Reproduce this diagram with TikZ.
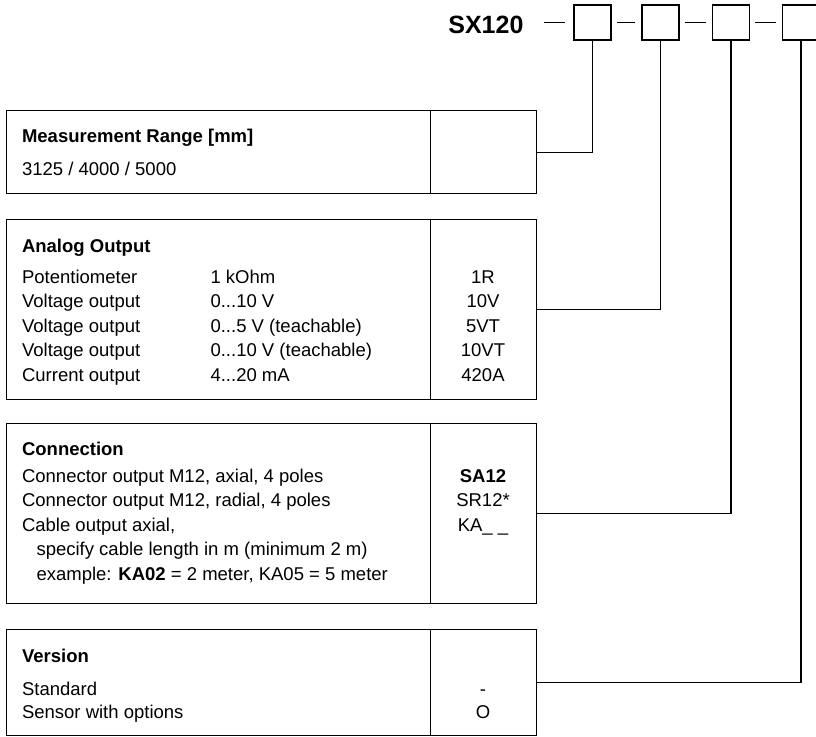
\documentclass[tikz,border=0pt]{standalone}
\usepackage{fontspec}
\setmainfont{Liberation Sans}

\begin{document}
\begin{tikzpicture}[x=1pt, y=-1pt, line width=1.1pt,
  txt/.style={anchor=base west, inner sep=0pt, font=\fontsize{18.5}{22}\selectfont},
  head/.style={txt, font=\fontsize{18.5}{22}\selectfont\bfseries},
  code/.style={txt, anchor=base},
  cell/.style={draw, anchor=north west, inner sep=0pt, minimum width=424},
  codecell/.style={draw, anchor=north west, inner sep=0pt, minimum width=106},
  slot/.style={draw, minimum width=37, minimum height=35, inner sep=0pt}]
\useasboundingbox (0,0) rectangle (816,736);

% order code
\node[font=\fontsize{25}{30}\selectfont\bfseries, anchor=base east, inner sep=0pt] (sx) at (524,33) {SX120};
\node[slot] (s1) at (592.5,22.5) {};
\node[slot] (s2) at (660.5,22.5) {};
\node[slot] (s3) at (731,22.5) {};
\node[slot] (s4) at (801,22.5) {};

% tables
\node[cell, minimum height=83] (range) at (6,110) {};
\node[codecell, minimum height=83] (rangecode) at (430,110) {};
\node[cell, minimum height=180] (ao) at (6,219) {};
\node[codecell, minimum height=180] (aocode) at (430,219) {};
\node[cell, minimum height=180] (con) at (6,423) {};
\node[codecell, minimum height=180] (concode) at (430,423) {};
\node[cell, minimum height=106] (ver) at (6,629) {};
\node[codecell, minimum height=106] (vercode) at (430,629) {};

\node[head] (rangetitle) at (21.5,142) {Measurement Range [mm]};
\node[txt] (rangeval) at (21.5,175) {3125 / 4000 / 5000};

\node[head] (aotitle) at (21.5,252) {Analog Output};
\node[txt] (pot) at (21.5,283) {Potentiometer};
\node[txt] (potval) at (210,283) {1 kOhm};
\node[code] (potcode) at (483,283) {1R};
\node[txt] (volt) at (21.5,307.5) {Voltage output};
\node[txt] (voltval) at (210,307.5) {0...10 V};
\node[code] (voltcode) at (483,307.5) {10V};
\node[txt] (voltt) at (21.5,332) {Voltage output};
\node[txt] (volttval) at (210,332) {0...5 V (teachable)};
\node[code] (volttcode) at (483,332) {5VT};
\node[txt] (volttt) at (21.5,356.5) {Voltage output};
\node[txt] (voltttval) at (210,356.5) {0...10 V (teachable)};
\node[code] (voltttcode) at (483,356.5) {10VT};
\node[txt] (cur) at (21.5,381) {Current output};
\node[txt] (curval) at (210,381) {4...20 mA};
\node[code] (curcode) at (483,381) {420A};

\node[head] (contitle) at (21.5,455) {Connection};
\node[txt] (axial) at (21.5,482) {Connector output M12, axial, 4 poles};
\node[code] (axialcode) at (483,482) {\textbf{SA12}};
\node[txt] (radial) at (21.5,506.5) {Connector output M12, radial, 4 poles};
\node[code] (radialcode) at (483,506.5) {SR12*};
\node[txt] (cable) at (21.5,531) {Cable output axial,};
\node[code] (cablecode) at (483,531) {KA\_ \_};
\node[txt] (cablelen) at (36,555.5) {specify cable length in m (minimum 2 m)};
\node[txt] (cableex) at (36,580) {example: \textbf{KA02} = 2 meter, KA05 = 5 meter};

\node[head] (vertitle) at (21.5,662) {Version};
\node[txt] (std) at (21.5,695) {Standard};
\node[code] (stdcode) at (483,695) {-};
\node[txt] (opt) at (21.5,718) {Sensor with options};
\node[code] (optcode) at (483,718) {O};

% dashes and leads
\draw[shorten <=20pt, shorten >=8pt] (sx.east |- s1) -- (s1);
\draw[shorten <=5pt, shorten >=6pt] (s1) -- (s2);
\draw[shorten <=5pt, shorten >=6pt] (s2) -- (s3);
\draw[shorten <=5pt, shorten >=6pt] (s3) -- (s4);
\draw (s1.south) |- (rangecode.east);
\draw (s2.south) |- (aocode.east);
\draw (s3.south) |- (concode.east);
\draw (s4.south) |- (vercode.east);
\end{tikzpicture}
\end{document}
